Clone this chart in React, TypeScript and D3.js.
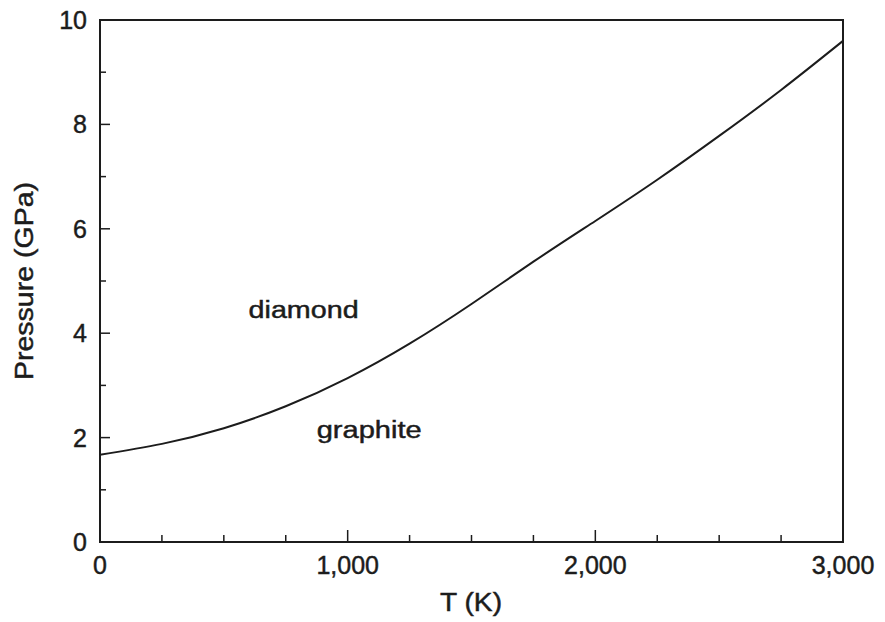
import React from "react";
import * as d3 from "d3";

const temperatures = [0, 250, 500, 750, 1000, 1250, 1500, 1750, 2000, 2250, 2500, 2750, 3000];
const pressures = [1.67, 1.88, 2.18, 2.6, 3.14, 3.8, 4.56, 5.37, 6.15, 6.94, 7.78, 8.66, 9.6];
const xMajorTicks = [0, 1000, 2000, 3000];
const xMinorTicks = [250, 500, 750, 1250, 1500, 1750, 2250, 2500, 2750];
const yMajorTicks = [0, 2, 4, 6, 8, 10];
const yMinorTicks = [1, 3, 5, 7, 9];
const regionLabels = [
  { text: "diamond", T: 600, P: 4.3 },
  { text: "graphite", T: 875, P: 2.0 },
];

const W = 885;
const H = 622;
const left = 100, right = 843, top = 20, bottom = 542;
const ink = "#1c1c1c";
const font = "'Liberation Sans', Arial, Helvetica, sans-serif";

export default function App() {
  const x = d3.scaleLinear().domain([0, 3000]).range([left, right]);
  const y = d3.scaleLinear().domain([0, 10]).range([bottom, top]);
  const data = temperatures.map((t, i) => [t, pressures[i]] as [number, number]);
  const line = d3
    .line<[number, number]>()
    .x((d) => x(d[0]))
    .y((d) => y(d[1]))
    .curve(d3.curveNatural);
  const fmt = d3.format(",");
  const textStyle = { fill: ink, stroke: ink, strokeWidth: 0.45 };

  return (
    <svg
      width={W}
      height={H}
      viewBox={`0 0 ${W} ${H}`}
      style={{ position: "absolute", left: 0, top: 0, background: "#fff" }}
      fontFamily={font}
    >
      <rect x={0} y={0} width={W} height={H} fill="#fff" />
      {/* frame */}
      <rect x={left} y={top} width={right - left} height={bottom - top} fill="none" stroke={ink} strokeWidth={2} />
      {/* x ticks */}
      {xMajorTicks.map((t) => (
        <line key={"xM" + t} x1={x(t)} x2={x(t)} y1={bottom} y2={bottom - 12} stroke={ink} strokeWidth={1.5} />
      ))}
      {xMinorTicks.map((t) => (
        <line key={"xm" + t} x1={x(t)} x2={x(t)} y1={bottom} y2={bottom - 7} stroke={ink} strokeWidth={1.5} />
      ))}
      {yMajorTicks.map((p) => (
        <line key={"yM" + p} x1={left} x2={left + 10} y1={y(p)} y2={y(p)} stroke={ink} strokeWidth={1.5} />
      ))}
      {yMinorTicks.map((p) => (
        <line key={"ym" + p} x1={left} x2={left + 6} y1={y(p)} y2={y(p)} stroke={ink} strokeWidth={1.5} />
      ))}
      {/* tick labels */}
      {xMajorTicks.map((t) => (
        <text key={"xl" + t} x={x(t)} y={574} textAnchor="middle" fontSize={25} style={textStyle}>
          {fmt(t)}
        </text>
      ))}
      {yMajorTicks.map((p) => (
        <text key={"yl" + p} x={87} y={y(p)} dy="0.36em" textAnchor="end" fontSize={25} style={textStyle}>
          {p}
        </text>
      ))}
      {/* curve */}
      <path d={line(data) || ""} fill="none" stroke={ink} strokeWidth={2} />
      {/* region labels */}
      {regionLabels.map((r) => (
        <text
          key={r.text}
          x={x(r.T)}
          y={y(r.P)}
          fontSize={23}
          style={textStyle}
          textLength={r.text === "diamond" ? 110 : 105}
          lengthAdjust="spacingAndGlyphs"
        >
          {r.text}
        </text>
      ))}
      {/* axis titles */}
      <text x={440} y={611} fontSize={25} style={textStyle} textLength={62} lengthAdjust="spacingAndGlyphs">
        T (K)
      </text>
      <text
        transform={`translate(33, ${281}) rotate(-90)`}
        textAnchor="middle"
        fontSize={25}
        style={textStyle}
        textLength={198}
        lengthAdjust="spacingAndGlyphs"
      >
        Pressure (GPa)
      </text>
    </svg>
  );
}
